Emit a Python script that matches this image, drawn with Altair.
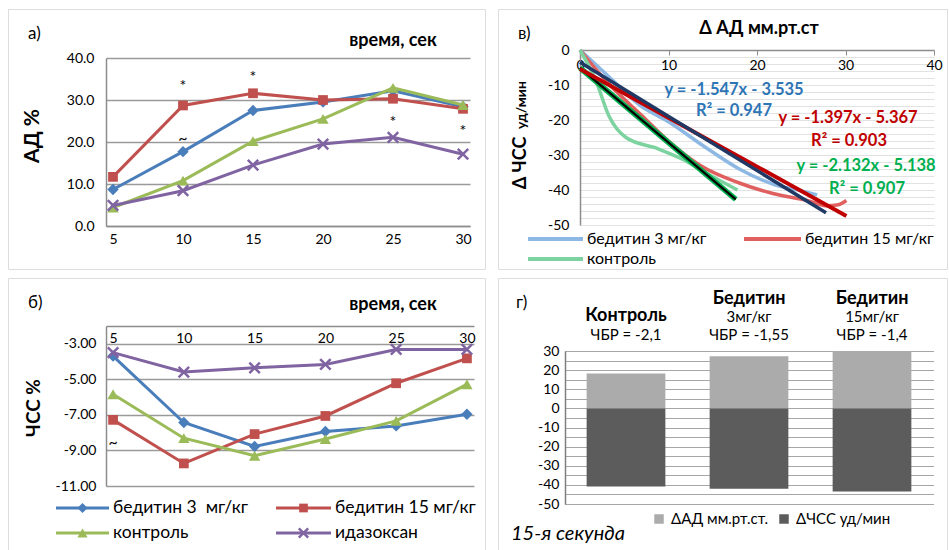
import altair as alt
import pandas as pd

FONT = "Lato"

# ---------------- panels а) and б) ----------------
times = [5, 10, 15, 20, 25, 30]
series_names = ["бедитин 3\u00a0 мг/кг", "бедитин 15 мг/кг", "контроль", "идазоксан"]
series_colors = ["#4A7EBB", "#C0504D", "#9BBB59", "#8064A2"]

# АД %, panel а)
ad_b3 = [8.7, 17.7, 27.5, 29.5, 32.2, 28.4]
ad_b15 = [11.7, 28.7, 31.6, 30.0, 30.3, 27.9]
ad_ctrl = [4.4, 10.8, 20.2, 25.5, 32.9, 28.8]
ad_ida = [4.9, 8.4, 14.5, 19.5, 21.1, 17.1]

# ЧСС %, panel б)
hr_b3 = [-3.69, -7.43, -8.78, -7.93, -7.62, -6.96]
hr_b15 = [-7.28, -9.73, -8.08, -7.06, -5.22, -3.82]
hr_ctrl = [-5.84, -8.31, -9.30, -8.36, -7.34, -5.28]
hr_ida = [-3.50, -4.59, -4.35, -4.16, -3.32, -3.32]

ad_series = [ad_b3, ad_b15, ad_ctrl, ad_ida]
hr_series = [hr_b3, hr_b15, hr_ctrl, hr_ida]

# significance marks
sig_a_t = [10, 15, 10, 25, 30]
sig_a_v = [34.0, 36.2, 21.4, 25.5, 23.3]
sig_a_txt = ["*", "*", "~", "*", "*"]
sig_b_t = [5]
sig_b_v = [-8.58]
sig_b_txt = ["~"]

# ---------------- panel в) ----------------
cur_b3_x = [0.0, 3.0, 6.9, 10.0, 14.0, 18.0, 22.0, 25.6, 26.8]
cur_b3_y = [0.0, -7.0, -16.0, -20.5, -27.5, -34.0, -38.5, -40.6, -41.4]
cur_b15_x = [0.0, 3.3, 7.1, 10.0, 13.6, 18.0, 21.8, 25.7, 27.9, 29.2, 30.1]
cur_b15_y = [0.0, -9.8, -19.0, -26.0, -33.0, -38.0, -41.0, -43.0, -44.5, -44.2, -43.0]
cur_ctrl_x = [0.0, 1.8, 3.3, 5.2, 8.9, 11.4, 14.5, 17.8]
cur_ctrl_y = [0.0, -8.8, -19.0, -25.0, -28.3, -31.0, -35.5, -40.0]
trend_b3_x = [0.0, 27.8]
trend_b3_y = [-3.5, -46.5]
trend_b15_x = [0.0, 30.1]
trend_b15_y = [-5.4, -47.4]
trend_ctrl_x = [0.0, 17.6]
trend_ctrl_y = [-5.1, -42.7]
curve_names = ["бедитин 3 мг/кг", "бедитин 15 мг/кг", "контроль"]
curve_colors = ["#8DB8E4", "#E06060", "#7DD3A0"]
eq_texts = ["y = -1.547x - 3.535", "R² = 0.947",
            "y = -1.397x - 5.367", "R² = 0.903",
            "y = -2.132x - 5.138", "R² = 0.907"]

# ---------------- panel г) ----------------
groups = ["Контроль", "Бедитин 3мг/кг", "Бедитин 15мг/кг"]
group_head = ["Контроль", "Бедитин", "Бедитин"]
group_dose = ["", "3мг/кг", "15мг/кг"]
group_chbr = ["ЧБР = -2,1", "ЧБР = -1,55", "ЧБР = -1,4"]
d_ad = [18.2, 27.2, 30.0]
d_hr = [-40.8, -42.0, -43.5]
bar_legend = ["ΔАД мм.рт.ст.", "ΔЧСС уд/мин"]

X_PATH = "M-1,-1L1,1M-1,1L1,-1"
shapes = ["diamond", "square", "triangle-up", X_PATH]
sizes = [130, 95, 130, 110]

AXC = "#8c8c8c"
GRID = "#9a9a9a"
MINUS_FIX = "replace(datum.label, '\u2212', '-')"


def txt(label, x, y, size=14, weight="normal", color="#000000", align="center",
        angle=0, style="normal", baseline="middle"):
    df = pd.DataFrame({"label": [label]})
    kw = dict(font=FONT, fontSize=size, fontWeight=weight, color=color,
              align=align, baseline=baseline, fontStyle=style)
    if angle:
        kw["angle"] = angle
    return alt.Chart(df).mark_text(**kw).encode(
        x=alt.value(x), y=alt.value(y), text="label:N")


def legend_entry(name, color, x0, x1, y, shape=None, size=100, filled=True, width=3,
                 fsize=16):
    df = pd.DataFrame({"label": [name]})
    out = [alt.Chart(df).mark_rule(color=color, strokeWidth=width).encode(
        x=alt.value(x0), x2=alt.value(x1), y=alt.value(y))]
    if shape is not None:
        kw = dict(shape=shape, filled=filled, color=color, size=size, opacity=1)
        if not filled:
            kw["strokeWidth"] = 2.5
        out.append(alt.Chart(df).mark_point(**kw).encode(
            x=alt.value((x0 + x1) / 2), y=alt.value(y)))
    out.append(alt.Chart(df).mark_text(font=FONT, fontSize=fsize, align="left",
                                       baseline="middle").encode(
        x=alt.value(x1 + 4), y=alt.value(y), text="label:N"))
    return out


def line_series(xs, ys, X, Y, color, shape, size, filled):
    df = pd.DataFrame({"t": xs, "v": ys})
    base = alt.Chart(df).encode(x=X, y=Y)
    kw = dict(shape=shape, filled=filled, color=color, size=size, opacity=1)
    if not filled:
        kw["strokeWidth"] = 2.5
    return [base.mark_line(color=color, strokeWidth=3),
            base.mark_point(**kw)]


# ================= panel а =================
WA, HA = 477, 260
XA = alt.X("t:Q", title=None,
           scale=alt.Scale(domain=[4.5, 30.5], range=[98, 462], nice=False, zero=False),
           axis=alt.Axis(orient="bottom", offset=-(HA - 217), values=times, format="d",
                         labelFlush=False, grid=False, ticks=False, domainColor=AXC,
                         domainWidth=1.5, labelFontSize=14, labelPadding=6))
YA = alt.Y("v:Q", title=None,
           scale=alt.Scale(domain=[0, 40], range=[217, 49], nice=False, zero=False),
           axis=alt.Axis(offset=-98, values=[0, 10, 20, 30, 40], format=".1f", grid=True,
                         gridColor=GRID, gridWidth=1.5, ticks=False, domainColor=AXC,
                         domainWidth=1.5, labelFontSize=14, labelPadding=12))
layers_a = []
for i in range(4):
    layers_a += line_series(times, ad_series[i], XA, YA, series_colors[i], shapes[i],
                            sizes[i], i != 3)
sig_a = pd.DataFrame({"t": sig_a_t, "v": sig_a_v, "label": sig_a_txt})
layers_a.append(alt.Chart(sig_a).mark_text(font=FONT, fontSize=16, dy=3).encode(
    x=XA, y=YA, text="label:N"))
layers_a += [
    txt("а)", 20, 25, size=17, align="left"),
    txt("время, сек", 385, 32, size=18, weight="bold"),
    txt("АД %", 25, 127, size=21, weight="bold", angle=270),
]
panel_a = alt.layer(*layers_a).properties(width=WA, height=HA)

# ================= panel б =================
WB, HB = 477, 273
XB = alt.X("t:Q", title=None,
           scale=alt.Scale(domain=[4.5, 30.5], range=[98, 466], nice=False, zero=False),
           axis=alt.Axis(orient="bottom", offset=-(HB - 48), values=times, format="d",
                         labelFlush=False, grid=False, ticks=False, domainColor=AXC,
                         domainWidth=1.5, labelFontSize=14, labelPadding=5))
YB = alt.Y("v:Q", title=None,
           scale=alt.Scale(domain=[-11, -2], range=[208, 48], nice=False, zero=False),
           axis=alt.Axis(offset=-98, values=[-3, -5, -7, -9, -11], format=".2f",
                         labelExpr=MINUS_FIX, grid=True,
                         gridColor=GRID, gridWidth=1.5, ticks=False, domainColor=AXC,
                         domainWidth=1.5, labelFontSize=14, labelPadding=10))
layers_b = []
for i in range(4):
    layers_b += line_series(times, hr_series[i], XB, YB, series_colors[i], shapes[i],
                            sizes[i], i != 3)
sig_b = pd.DataFrame({"t": sig_b_t, "v": sig_b_v, "label": sig_b_txt})
layers_b.append(alt.Chart(sig_b).mark_text(font=FONT, fontSize=16).encode(
    x=XB, y=YB, text="label:N"))
layers_b += [
    txt("б)", 20, 25, size=17, align="left"),
    txt("время, сек", 385, 27, size=18, weight="bold"),
    txt("ЧСС %", 26, 130, size=19, weight="bold", angle=270),
]
leg_pos = [(48, 101, 230), (268, 323, 230), (48, 101, 255), (268, 323, 255)]
for i in range(4):
    x0, x1, y = leg_pos[i]
    layers_b += legend_entry(series_names[i], series_colors[i], x0, x1, y,
                             shape=shapes[i], size=sizes[i] * 0.8, filled=(i != 3),
                             fsize=17.5)
panel_b = alt.layer(*layers_b).properties(width=WB, height=HB)

# ================= panel в =================
WV, HV = 449, 260
XV = alt.X("x:Q", title=None,
           scale=alt.Scale(domain=[0, 40], range=[82, 436], nice=False, zero=False),
           axis=alt.Axis(orient="bottom", offset=-(HV - 41), values=[0, 10, 20, 30, 40],
                         format="d", labelFlush=False, grid=False, ticks=True, tickSize=5,
                         tickColor=AXC, domainColor=AXC, domainWidth=1.5,
                         labelFontSize=14, labelPadding=3))
YV = alt.Y("y:Q", title=None,
           scale=alt.Scale(domain=[-50, 0], range=[216, 41], nice=False, zero=False),
           axis=alt.Axis(offset=-82, values=list(range(-50, 1, 2)), format="d",
                         labelExpr="datum.value % 10 == 0 ? " + MINUS_FIX + " : ''",
                         labelOverlap=False, grid=True, gridColor="#e2e2e2", gridWidth=1,
                         ticks=False, domainColor=AXC, domainWidth=1.5,
                         labelFontSize=14, labelPadding=11))


def vline(xs, ys, color, width, interp="monotone", opacity=1.0):
    df = pd.DataFrame({"x": xs, "y": ys})
    return alt.Chart(df).mark_line(color=color, strokeWidth=width, interpolate=interp,
                                   opacity=opacity).encode(x=XV, y=YV)


layers_v = [
    vline(cur_b3_x, cur_b3_y, curve_colors[0], 3.5),
    vline(cur_b15_x, cur_b15_y, curve_colors[1], 3.5),
    vline(cur_ctrl_x, cur_ctrl_y, curve_colors[2], 3.5),
    vline(trend_ctrl_x, trend_ctrl_y, "#00B050", 5.5, "linear"),
    vline(trend_ctrl_x, trend_ctrl_y, "#000000", 2.2, "linear"),
    vline(trend_b15_x, trend_b15_y, "#C00000", 4, "linear"),
    vline(trend_b3_x, trend_b3_y, "#1F3864", 3.5, "linear"),
]
eq_pos = [(236, 81), (236, 102), (350, 109), (351, 132), (368, 157), (369, 180)]
eq_cols = ["#2E75B6", "#2E75B6", "#C00000", "#C00000", "#00B050", "#00B050"]
for i in range(6):
    layers_v.append(txt(eq_texts[i], eq_pos[i][0], eq_pos[i][1], size=16.5, weight="bold",
                        color=eq_cols[i]))
layers_v += [
    txt("в)", 20, 25, size=17, align="left"),
    txt("Δ АД мм.рт.ст", 261, 20, size=18, weight="bold"),
    txt("Δ ЧСС", 23, 154, size=18, weight="bold", angle=270),
    txt("уд/мин", 24, 96, size=14, weight="bold", angle=270),
]
vleg = [(30, 85, 230), (246, 303, 230), (30, 85, 250)]
for i in range(3):
    x0, x1, y = vleg[i]
    layers_v += legend_entry(curve_names[i], curve_colors[i], x0, x1, y, width=4,
                             fsize=16)
panel_v = alt.layer(*layers_v).properties(width=WV, height=HV)

# ================= panel г =================
WG, HG = 449, 273
XG = alt.X("g:N", title=None, sort=groups,
           scale=alt.Scale(domain=groups, range=[66.5, 435.5], paddingInner=0.36,
                           paddingOuter=0.18),
           axis=None)
g_scale = alt.Scale(domain=[-50, 30], range=[226, 73], nice=False, zero=False)
g_axis = alt.Axis(offset=-67, values=list(range(-50, 31, 5)), format="d",
                  labelExpr="datum.value % 10 == 0 ? " + MINUS_FIX + " : ''",
                  labelOverlap=False, grid=True, gridColor="#a6a6a6", gridWidth=1.2,
                  ticks=False, domainColor="#7f7f7f", domainWidth=1.5,
                  labelFontSize=14, labelPadding=6)
bars = pd.DataFrame({"g": groups, "ad": d_ad, "hr": d_hr, "head": group_head,
                     "dose": group_dose, "chbr": group_chbr})
bar_ad = alt.Chart(bars).mark_bar(color="#ABABAB").encode(
    x=XG, y=alt.Y("ad:Q", title=None, scale=g_scale, axis=g_axis))
bar_hr = alt.Chart(bars).mark_bar(color="#5C5C5C").encode(
    x=XG, y=alt.Y("hr:Q", title=None, scale=g_scale, axis=g_axis))
hb = alt.Chart(bars)
layers_g = [
    bar_ad, bar_hr,
    hb.transform_filter("datum.dose != ''").mark_text(
        font=FONT, fontSize=18, fontWeight="bold").encode(x=XG, y=alt.value(21), text="head:N"),
    hb.transform_filter("datum.dose == ''").mark_text(
        font=FONT, fontSize=18, fontWeight="bold").encode(x=XG, y=alt.value(38), text="head:N"),
    hb.transform_filter("datum.dose != ''").mark_text(
        font=FONT, fontSize=15).encode(x=XG, y=alt.value(39), text="dose:N"),
    hb.mark_text(font=FONT, fontSize=15).encode(x=XG, y=alt.value(57), text="chbr:N"),
    txt("г)", 18, 25, size=17, align="left"),
    txt("15-я секунда", 13, 256, size=20, align="left", style="italic"),
]
for i, (cx, col) in enumerate([(161, "#ABABAB"), (286, "#5C5C5C")]):
    d = pd.DataFrame({"label": [bar_legend[i]]})
    layers_g.append(alt.Chart(d).mark_point(shape="square", filled=True, color=col,
                                            size=90, opacity=1).encode(
        x=alt.value(cx), y=alt.value(241)))
    layers_g.append(alt.Chart(d).mark_text(font=FONT, fontSize=15, align="left",
                                           baseline="middle").encode(
        x=alt.value(cx + 12), y=alt.value(241), text="label:N"))
panel_g = alt.layer(*layers_g).properties(width=WG, height=HG)

chart = alt.concat(panel_a, panel_v, panel_b, panel_g, columns=2,
                   spacing={"row": 9, "column": 13}, bounds="flush").properties(
    padding={"left": 7, "top": 8, "right": 0, "bottom": 0},
    background="white",
).configure_view(stroke="#9c9c9c", strokeWidth=1.5).configure(font=FONT)

chart.save("out.html", embed_options={"renderer": "svg", "actions": False})
